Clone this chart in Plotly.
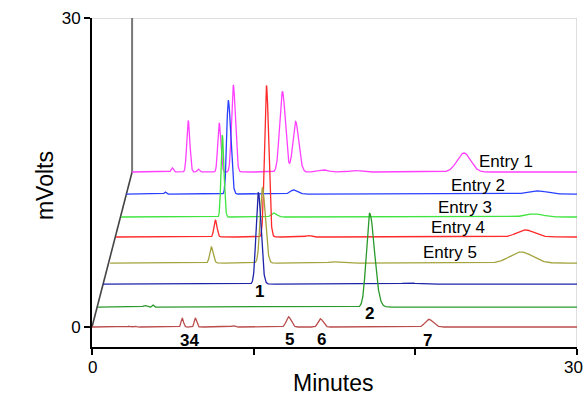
import numpy as np
import plotly.graph_objects as go

# ---- data ----
trace_names = ["Mix", "Std 2", "Std 1", "Entry 5", "Entry 4", "Entry 3", "Entry 2", "Entry 1"]
trace_colors = ["#bb4c4c", "#2a9a2a", "#1e24a8", "#a3a23c", "#ff2a2a", "#3fe43f", "#2a40ff", "#ff40ff"]
x_offsets = [0.0, 0.37, 0.68, 1.12, 1.49, 1.80, 2.11, 2.48]      # minutes (pseudo-3D shift)
y_offsets = [0.0, 1.94, 4.17, 6.21, 8.74, 10.68, 12.91, 15.05]   # mVolts (pseudo-3D shift)

# peak tables: retention time (min), height (mV), left / right sigma (min)
mix_rt = [2.29, 2.67, 5.58, 6.39, 8.74, 12.15, 14.13, 20.83]
mix_h = [0.08, 0.08, 0.85, 0.85, 0.12, 1.0, 0.8, 0.75]
mix_wl = [0.08, 0.08, 0.07, 0.07, 0.1, 0.14, 0.14, 0.22]
mix_wr = [0.08, 0.08, 0.08, 0.08, 0.1, 0.17, 0.17, 0.27]

std2_rt = [2.9, 3.4, 16.80]
std2_h = [0.15, 0.2, 9.1]
std2_wl = [0.1, 0.05, 0.2]
std2_wr = [0.1, 0.05, 0.3]

std1_rt = [9.61, 18.9]
std1_h = [8.9, 0.1]
std1_wl = [0.14, 0.5]
std1_wr = [0.17, 0.5]

e5_rt = [6.26, 9.42, 13.8, 25.42]
e5_h = [1.55, 7.3, 0.12, 1.07]
e5_wl = [0.1, 0.14, 0.3, 0.7]
e5_wr = [0.12, 0.18, 0.3, 0.7]

e4_rt = [6.14, 9.30, 11.9, 25.29]
e4_h = [1.65, 14.7, 0.15, 0.7]
e4_wl = [0.09, 0.12, 0.15, 0.5]
e4_wr = [0.1, 0.14, 0.15, 0.55]

e3_rt = [6.26, 9.42, 25.54]
e3_h = [7.95, 0.4, 0.3]
e3_wl = [0.08, 0.15, 0.55]
e3_wr = [0.1, 0.2, 0.55]

e2_rt = [2.42, 6.32, 10.35, 25.42]
e2_h = [0.2, 9.1, 0.4, 0.3]
e2_wl = [0.06, 0.1, 0.2, 0.6]
e2_wr = [0.06, 0.15, 0.25, 0.6]

e1_rt = [2.48, 3.47, 4.09, 5.39, 6.26, 9.30, 10.11, 11.84, 13.82, 20.52]
e1_h = [0.4, 5.0, 0.3, 4.76, 8.45, 7.8, 4.9, 0.2, 0.15, 1.85]
e1_wl = [0.07, 0.09, 0.07, 0.09, 0.11, 0.17, 0.17, 0.3, 0.3, 0.42]
e1_wr = [0.07, 0.1, 0.07, 0.1, 0.13, 0.18, 0.2, 0.3, 0.3, 0.42]

peak_rt = [mix_rt, std2_rt, std1_rt, e5_rt, e4_rt, e3_rt, e2_rt, e1_rt]
peak_h = [mix_h, std2_h, std1_h, e5_h, e4_h, e3_h, e2_h, e1_h]
peak_wl = [mix_wl, std2_wl, std1_wl, e5_wl, e4_wl, e3_wl, e2_wl, e1_wl]
peak_wr = [mix_wr, std2_wr, std1_wr, e5_wr, e4_wr, e3_wr, e2_wr, e1_wr]

peak_labels = ["1", "2", "34", "5", "6", "7"]
entry_labels = ["Entry 1", "Entry 2", "Entry 3", "Entry 4", "Entry 5"]
x_tick_vals = [0, 10, 20, 30]
x_tick_text = ["0", "", "", "30"]
y_tick_vals = [0, 30]
y_tick_text = ["0", "30"]

# ---- build figure ----
fig = go.Figure()

def chromatogram(t, rts, hs, wls, wrs):
    s = np.zeros_like(t)
    for rt, h, wl, wr in zip(rts, hs, wls, wrs):
        w = np.where(t < rt, wl, wr)
        s += h * np.exp(-0.5 * ((t - rt) / w) ** 2)
    return s

# back wall of pseudo-3D view
fig.add_trace(go.Scatter(x=[x_offsets[0], x_offsets[-1]], y=[y_offsets[0], y_offsets[-1]],
                         mode="lines", line=dict(color="#444444", width=1.6),
                         hoverinfo="skip", showlegend=False))
fig.add_trace(go.Scatter(x=[x_offsets[-1], x_offsets[-1]], y=[y_offsets[-1], 30],
                         mode="lines", line=dict(color="#777777", width=2),
                         hoverinfo="skip", showlegend=False))

for i in reversed(range(len(trace_names))):
    t = np.arange(0, 30 - x_offsets[i] + 1e-9, 0.01)
    s = chromatogram(t, peak_rt[i], peak_h[i], peak_wl[i], peak_wr[i])
    fig.add_trace(go.Scatter(x=t + x_offsets[i], y=s + y_offsets[i], mode="lines",
                             name=trace_names[i],
                             line=dict(color=trace_colors[i], width=1.3),
                             showlegend=False))

# frame (top and right, light grey)
fig.add_shape(type="line", xref="x", yref="y", x0=0, x1=30, y0=30, y1=30,
              line=dict(color="#d4d4d4", width=1.5), layer="below")
fig.add_shape(type="line", xref="x", yref="paper", x0=30, x1=30, y0=0, y1=1,
              line=dict(color="#d4d4d4", width=1.5), layer="below")

bold = dict(family="Liberation Sans, Arial", size=17, color="black")
peak_label_pos = [(10.35, 3.49), (17.17, 1.36), (6.01, -1.3), (12.21, -1.2), (14.19, -1.2), (20.76, -1.3)]
for txt, (x, y) in zip(peak_labels, peak_label_pos):
    fig.add_annotation(x=x, y=y, text="<b>%s</b>" % txt, showarrow=False, font=bold)

entry_font = dict(family="Liberation Sans, Arial", size=17, color="black")
entry_label_pos = [(25.6, 16.09), (23.86, 13.76), (23.06, 11.63), (22.62, 9.69), (22.13, 7.27)]
for txt, (x, y) in zip(entry_labels, entry_label_pos):
    fig.add_annotation(x=x, y=y, text=txt, showarrow=False, font=entry_font)

title_font = dict(family="Liberation Sans, Arial", size=23, color="black")
fig.add_annotation(xref="paper", yref="paper", x=-0.128, y=0.492, text="mVolts",
                   textangle=-90, showarrow=False, font=title_font)
fig.add_annotation(xref="paper", yref="paper", x=0.497, y=-0.155, text="Minutes",
                   showarrow=False, font=title_font)

tick_font = dict(family="Liberation Sans, Arial", size=17, color="black")
# x tick labels drawn as annotations so the last one stays inside the page
for v, txt in zip(x_tick_vals, x_tick_text):
    if not txt:
        continue
    at_end = v == x_tick_vals[-1]
    fig.add_annotation(x=v, xref="x", yref="paper", y=0, yshift=-9, yanchor="top",
                       xanchor="right" if at_end else "center", xshift=8 if at_end else 0,
                       text=txt, showarrow=False, font=tick_font)

fig.update_layout(
    width=585, height=409,
    margin=dict(l=92, r=8, t=18, b=62),
    paper_bgcolor="white", plot_bgcolor="white",
    font=dict(family="Liberation Sans, Arial", size=17, color="black"),
    showlegend=False,
)
fig.update_xaxes(range=[0, 30], showgrid=False, zeroline=False, showline=True, automargin=False,
                 linecolor="black", linewidth=2, ticks="outside", ticklen=6, tickwidth=1.5,
                 tickcolor="black", tickvals=x_tick_vals, showticklabels=False)
fig.update_yaxes(range=[-1.94, 30], showgrid=False, zeroline=False, showline=True, automargin=False,
                 linecolor="black", linewidth=2, ticks="outside", ticklen=6, tickwidth=1.5,
                 tickcolor="black", tickvals=y_tick_vals, ticktext=y_tick_text)

fig.write_html("out.html", config={"displayModeBar": False},
               post_script="document.body.style.margin='0';document.body.style.overflow='hidden';")
